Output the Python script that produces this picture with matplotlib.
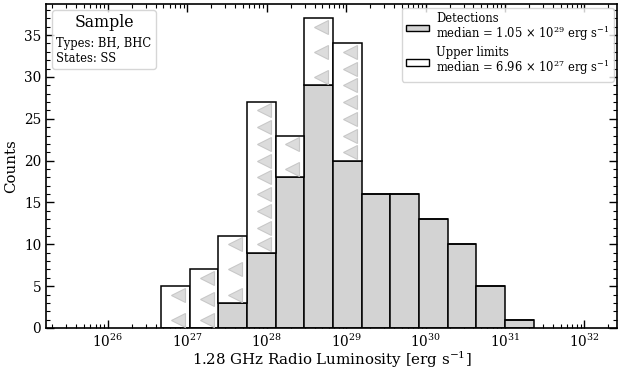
import numpy as np
import matplotlib
matplotlib.use('Agg')
import matplotlib.pyplot as plt
from matplotlib.patches import Patch
from matplotlib.lines import Line2D
from matplotlib.ticker import LogLocator, FixedLocator, MultipleLocator, NullFormatter

plt.rcParams['font.family'] = 'DejaVu Serif'
plt.rcParams['mathtext.fontset'] = 'dejavuserif'

# histogram bins in log10(L) [erg/s]
log_lo, log_hi, n_bins = 26.67, 31.36, 13
det_counts = [0, 0, 3, 9, 18, 29, 20, 16, 16, 13, 10, 5, 1]
ul_counts = [5, 7, 8, 18, 5, 8, 14, 0, 0, 0, 0, 0, 0]
# number of upper-limit arrows drawn inside each white block
ul_arrows = [2, 3, 3, 9, 2, 3, 7, 0, 0, 0, 0, 0, 0]
decades = [26, 27, 28, 29, 30, 31, 32]

det_median = 1.05e29
ul_median = 6.96e27

edges = np.logspace(log_lo, log_hi, n_bins + 1)
lefts = edges[:-1]
widths = np.diff(edges)
det = np.array(det_counts)
ul = np.array(ul_counts)

fig = plt.figure(figsize=(6.19, 3.74), dpi=100)
ax = fig.add_axes([0.0743, 0.123, 0.9225, 0.866])

ax.bar(lefts, det, width=widths, align='edge', color='lightgray',
       edgecolor='black', linewidth=1.1, zorder=2)
ax.bar(lefts, ul, width=widths, bottom=det, align='edge', color='white',
       edgecolor='black', linewidth=1.1, zorder=2)

# left-pointing arrows marking the upper limits
centers = np.sqrt(edges[:-1] * edges[1:]) * 10**0.03
for xc, d, u, n in zip(centers, det, ul, ul_arrows):
    if n == 0:
        continue
    ys = np.linspace(d + 1, d + u - 1, n)
    ax.plot(np.full(n, xc), ys, linestyle='none', marker='<', markersize=10,
            markerfacecolor='#dcdcdc', markeredgecolor='#c8c8c8',
            markeredgewidth=0.8, zorder=3)

ax.set_xscale('log')
ax.set_xlim(10**25.22, 10**32.41)
ax.set_ylim(0, 38.7)
ax.xaxis.set_major_locator(FixedLocator(10.0 ** np.array(decades)))
ax.xaxis.set_minor_locator(LogLocator(base=10, subs=np.arange(2, 10), numticks=20))
ax.xaxis.set_minor_formatter(NullFormatter())
ax.yaxis.set_major_locator(MultipleLocator(5))
ax.yaxis.set_minor_locator(MultipleLocator(1))
ax.tick_params(which='both', direction='in', top=True, right=True, labelsize=9.8)
ax.tick_params(which='major', length=6, width=1)
ax.tick_params(which='minor', length=3, width=0.8)
for sp in ax.spines.values():
    sp.set_linewidth(1.2)

ax.set_xlabel(r'1.28 GHz Radio Luminosity [erg s$^{-1}$]', fontsize=10.8, labelpad=-0.5)
ax.set_ylabel('Counts', fontsize=10.8, labelpad=4)

def sci(v):
    exp = int(np.floor(np.log10(v)))
    return r'%.2f $\times$ 10$^{%d}$' % (v / 10**exp, exp)

handles = [
    Patch(facecolor='lightgray', edgecolor='black',
          label='Detections\nmedian = %s erg s$^{-1}$' % sci(det_median)),
    Patch(facecolor='white', edgecolor='black',
          label='Upper limits\nmedian = %s erg s$^{-1}$' % sci(ul_median)),
]
leg = ax.legend(handles=handles, loc='upper right', fontsize=8.3,
                borderaxespad=0.3, handlelength=2.0, handleheight=0.5,
                handletextpad=0.6, labelspacing=0.3, borderpad=0.35)
for t in leg.get_texts():
    t.set_linespacing(0.95)
ax.add_artist(leg)

info = [Line2D([], [], linestyle='none', label='Types: BH, BHC\nStates: SS')]
leg2 = ax.legend(handles=info, loc='upper left', title='Sample', fontsize=8.3,
                 title_fontsize=11.3, handlelength=0, handletextpad=0,
                 borderaxespad=0.55, borderpad=0.35, alignment='center')
leg2.get_texts()[0].set_linespacing(1.15)

fig.savefig('out.png', dpi=100)
